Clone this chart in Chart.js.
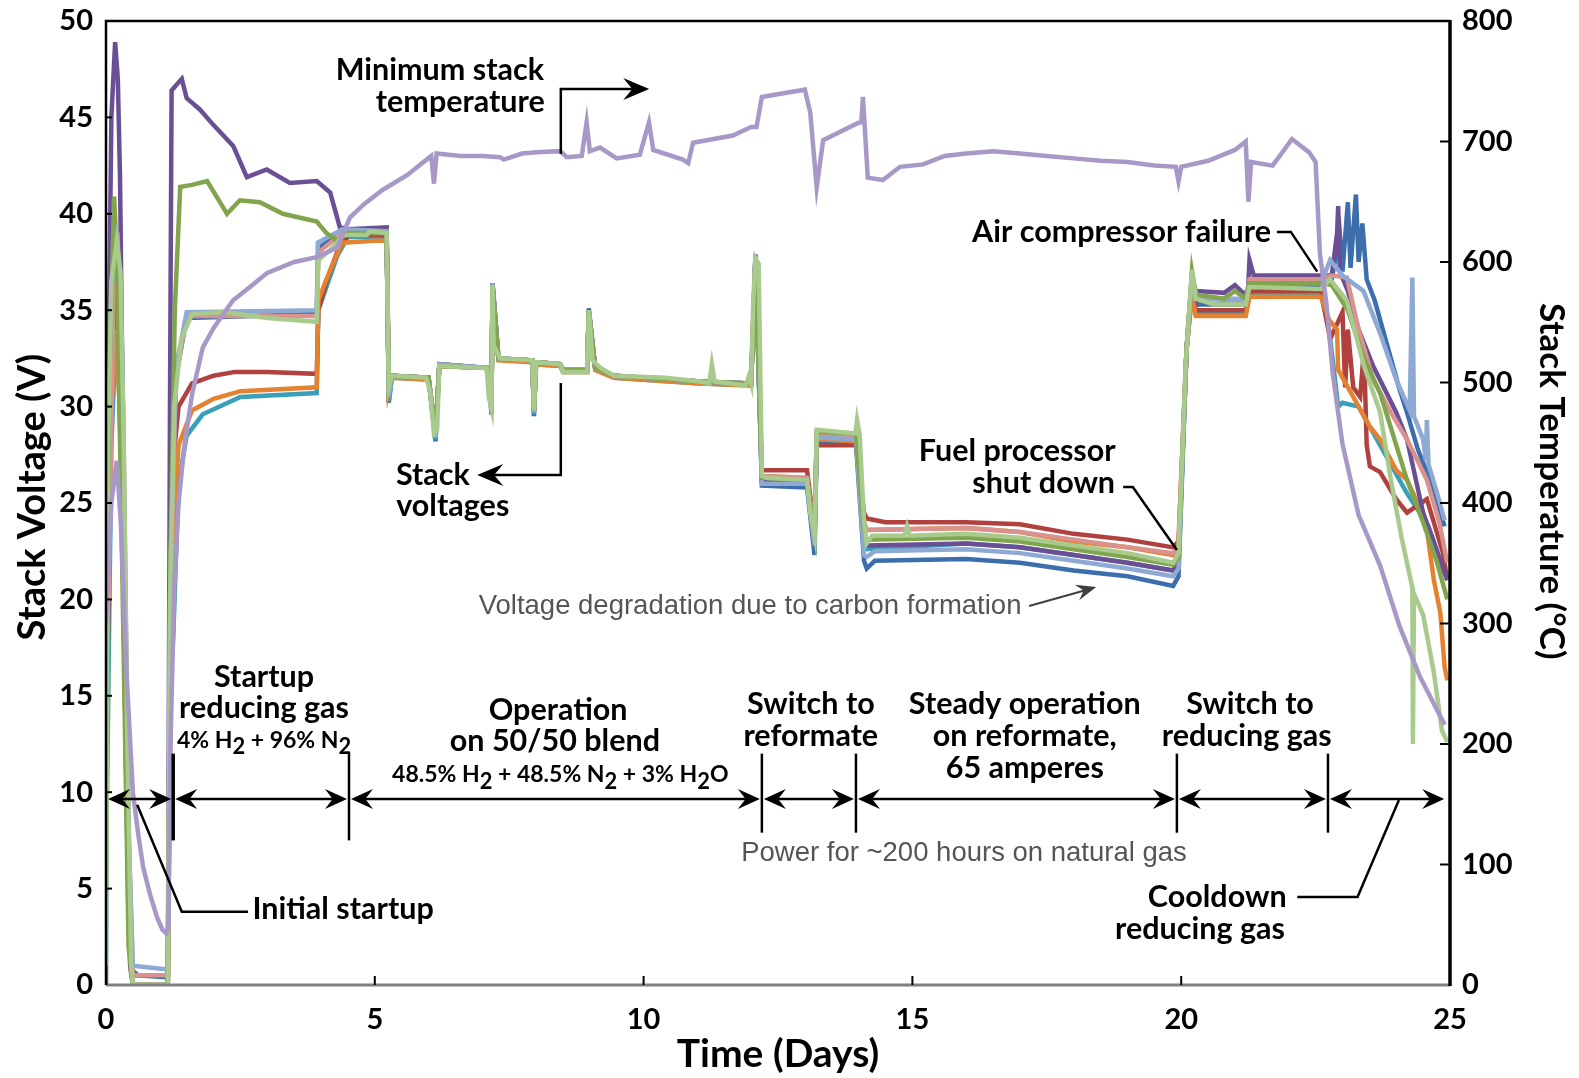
<!DOCTYPE html>
<html>
<head>
<meta charset="utf-8">
<script src="https://cdn.jsdelivr.net/npm/chart.js@4/dist/chart.umd.min.js"></script>
<style>
html,body{margin:0;padding:0;background:#fff}
#wrap{width:1579px;height:1078px;position:relative}
</style>
</head>
<body>
<div id="wrap"><canvas id="c"></canvas></div>
<script>
// tick labels
var xTicks = [0, 5, 10, 15, 20, 25];
var voltTicks = [0, 5, 10, 15, 20, 25, 30, 35, 40, 45, 50];
var tempTicks = [0, 100, 200, 300, 400, 500, 600, 700, 800];

// minimum stack temperature, [day, degC]
var stackTemp = [[0.0,300],[0.1,400],[0.2,435],[0.28,380],[0.38,260],[0.5,160],[0.6,125],[0.69,98],[0.82,75],[0.95,56],[1.05,46],[1.12,43],[1.16,48],[1.2,200],[1.27,330],[1.35,400],[1.45,445],[1.6,490],[1.8,529],[2.0,545],[2.36,568],[2.7,580],[3.0,591],[3.5,600],[3.92,604],[4.3,612],[4.54,637],[4.8,648],[5.15,660],[5.6,672],[6.05,688],[6.1,665],[6.15,690],[6.6,688],[7.0,688],[7.33,687],[7.4,685],[7.74,690],[8.0,691],[8.45,692],[8.57,687],[8.85,688],[8.94,716],[9.0,692],[9.19,695],[9.5,686],[9.93,689],[10.1,716],[10.18,693],[10.73,685],[10.83,682],[10.92,699],[11.66,705],[12.0,712],[12.1,712],[12.2,737],[12.6,740],[13.0,743],[13.1,724],[13.22,662],[13.34,701],[13.97,715],[14.05,716],[14.08,737],[14.17,670],[14.45,668],[14.77,679],[15.2,681],[15.6,688],[16.0,690],[16.5,692],[17.0,690],[17.5,688],[18.0,686],[18.5,684],[19.0,683],[19.5,680],[19.9,679],[19.95,667],[20.0,679],[20.5,684],[21.0,693],[21.2,700],[21.25,650],[21.3,683],[21.7,680],[22.06,702],[22.38,691],[22.5,683],[22.58,607],[22.7,566],[22.82,507],[23.0,449],[23.3,390],[23.7,348],[24.06,298],[24.44,256],[24.9,216]];

// stack voltages, [day, V]
var lightGreenV = [[0.0,1],[0.04,28],[0.1,36.5],[0.2,38.6],[0.27,37],[0.33,28],[0.4,12],[0.47,1],[0.5,0],[1.15,0],[1.19,20],[1.27,30],[1.4,33.5],[1.6,34.8],[2.2,34.9],[3.0,34.6],[3.92,34.4],[3.95,37.6],[4.2,38.2],[4.42,38.9],[4.85,38.9],[4.9,39.1],[5.22,39.0],[5.26,31.0],[5.32,31.6],[5.95,31.5],[6.03,30.8],[6.1,28.6],[6.16,28.8],[6.2,32.1],[7.08,32.0],[7.12,30.5],[7.17,29.9],[7.19,36.3],[7.21,33.2],[7.33,32.5],[7.93,32.4],[7.96,29.8],[8.0,32.3],[8.45,32.2],[8.5,31.8],[8.95,31.8],[8.98,35.0],[9.05,32.4],[9.2,32.0],[9.45,31.6],[10.4,31.5],[11.05,31.3],[11.22,31.2],[11.27,32.2],[11.32,31.3],[11.9,31.1],[11.96,31.6],[12.0,31.2],[12.04,35.5],[12.08,37.7],[12.14,37.4],[12.2,26.4],[12.3,26.3],[13.04,26.2],[13.1,24.5],[13.18,23.3],[13.22,28.8],[13.6,28.7],[13.94,28.6],[13.97,29.3],[14.02,28.5],[14.1,24.0],[14.15,22.9],[14.25,23.3],[14.85,23.3],[14.9,23.8],[14.95,23.3],[16.0,23.4],[17.0,23.2],[18.0,22.8],[19.0,22.4],[19.85,21.9],[19.95,22.4],[20.08,32],[20.2,37.1],[20.27,35.6],[20.6,35.3],[21.2,35.3],[21.27,36.2],[22.6,36.1],[22.77,36.6],[23.08,35.5],[23.4,32.1],[23.7,29.7],[23.9,26.2],[24.1,23.2],[24.3,20.6],[24.31,12.5],[24.33,20.3],[24.5,19.2],[24.7,16.2],[24.85,13.2],[24.95,12.6]];
var greenV = [[0.0,5],[0.05,30],[0.15,40.9],[0.2,38],[0.3,22],[0.42,2],[0.5,0],[1.15,0],[1.2,22],[1.28,35],[1.38,41.4],[1.6,41.5],[1.88,41.7],[2.1,40.7],[2.25,40.0],[2.49,40.7],[2.86,40.6],[3.29,40.0],[3.92,39.6],[4.1,39.0],[4.3,38.6],[4.5,39.0],[5.22,39.0],[5.26,31],[5.32,31.6],[6.0,31.5],[6.13,28.6],[6.2,32.1],[7.12,32],[7.17,29.9],[7.19,36.3],[7.3,32.5],[7.93,32.4],[7.96,29.8],[8.0,32.3],[8.45,32.2],[8.5,31.9],[8.95,31.9],[8.98,35],[9.1,32],[9.45,31.6],[11.05,31.3],[12.0,31.2],[12.08,37.7],[12.2,26.3],[13.04,26.2],[13.18,23.3],[13.22,28.7],[13.95,28.6],[14.1,23.6],[14.15,23.1],[16,23.2],[17,23.0],[18,22.6],[19,22.2],[19.85,21.8],[19.95,22.2],[20.1,33],[20.2,37.0],[20.27,35.8],[20.8,35.6],[21.0,36.0],[21.2,35.6],[21.27,36.4],[22.6,36.4],[22.8,36.3],[23.1,35.0],[23.4,32.5],[23.7,30.7],[24.0,28],[24.2,26.2],[24.5,24],[24.75,22],[24.95,20]];
var lightBlueV = [[0.02,25],[0.1,36],[0.2,38.8],[0.3,33],[0.42,8],[0.5,1],[1.15,0.8],[1.2,22],[1.3,32],[1.5,34.9],[3.92,35.0],[3.94,38.5],[4.4,39.2],[5.22,39.1],[5.26,30.5],[5.32,31.6],[6.0,31.5],[6.13,28.4],[6.2,32.2],[7.12,32.0],[7.17,29.8],[7.19,36.4],[7.3,32.5],[7.93,32.4],[7.96,29.7],[8.0,32.3],[8.45,32.2],[8.5,31.9],[8.95,31.9],[8.98,35],[9.1,32.0],[9.45,31.6],[11.05,31.3],[12.0,31.2],[12.08,37.8],[12.2,26.0],[13.04,26.0],[13.18,22.8],[13.22,28.4],[13.95,28.3],[14.1,22.3],[14.15,22.2],[14.3,22.5],[16.0,22.6],[17.0,22.4],[18.0,22.0],[19.0,21.6],[19.85,21.2],[19.95,21.6],[20.1,33],[20.2,36.8],[20.3,35.6],[21.2,35.6],[21.27,36.4],[22.6,36.4],[22.77,37.6],[23.0,36.8],[23.39,36.0],[23.7,33.8],[24.0,31.4],[24.25,29.8],[24.3,36.7],[24.33,29.5],[24.5,28.3],[24.55,27.2],[24.57,29.3],[24.6,27.0],[24.75,25.6],[24.9,24.1]];
var pinkV = [[0.05,20],[0.15,38],[0.22,38.5],[0.32,30],[0.42,8],[0.5,0.5],[1.15,0.5],[1.2,20],[1.3,31.5],[1.5,34.7],[3.92,34.7],[3.95,38],[4.4,39],[5.22,39],[5.26,31],[5.32,31.6],[6.0,31.5],[6.13,28.7],[6.2,32.1],[7.12,32],[7.17,30],[7.19,36.2],[7.3,32.5],[7.93,32.4],[7.96,29.9],[8.0,32.3],[8.45,32.2],[8.5,31.9],[8.95,31.9],[8.98,34.9],[9.1,32],[9.45,31.6],[11.05,31.3],[12.0,31.2],[12.08,37.6],[12.2,26.4],[13.04,26.3],[13.18,23.5],[13.22,28.5],[13.95,28.4],[14.1,24],[14.15,23.6],[16,23.7],[17,23.5],[18,23.1],[19,22.7],[19.85,22.4],[19.95,22.7],[20.1,33],[20.2,36.5],[20.27,35.6],[21.2,35.5],[21.27,36.6],[22.6,36.6],[22.8,36.8],[23.08,36.7],[23.3,34],[23.57,31.4],[23.9,29.7],[24.2,28.3],[24.57,26.2],[24.8,24],[24.95,21.9]];
var purpleV = [[0.0,20],[0.05,33],[0.1,45],[0.17,48.9],[0.22,47],[0.26,42],[0.32,28],[0.4,10],[0.45,1],[0.5,0],[1.15,0],[1.19,30],[1.22,46.4],[1.41,47.0],[1.5,46.0],[1.75,45.4],[2.0,44.6],[2.37,43.5],[2.62,41.9],[2.99,42.3],[3.42,41.6],[3.92,41.7],[4.17,41.1],[4.35,39.3],[4.5,39.2],[5.22,39.3],[5.26,31],[5.32,31.6],[6.0,31.5],[6.13,28.6],[6.2,32.2],[7.12,32],[7.17,29.9],[7.19,36.4],[7.3,32.5],[7.93,32.4],[7.96,29.8],[8.0,32.3],[8.45,32.2],[8.5,31.9],[8.95,31.9],[8.98,35],[9.1,32],[9.45,31.6],[11.05,31.3],[12.0,31.2],[12.08,37.9],[12.2,26.2],[13.04,26.1],[13.18,23.3],[13.22,28.6],[13.95,28.5],[14.1,23.2],[14.15,22.8],[16,22.9],[17,22.7],[18,22.3],[19,21.9],[19.85,21.5],[19.95,22],[20.1,33],[20.2,36.6],[20.27,36.0],[20.8,35.9],[21.0,36.3],[21.15,35.9],[21.24,35.9],[21.27,37.6],[21.35,36.8],[22.6,36.8],[22.8,36.8],[22.9,39],[22.92,40.4],[22.95,37],[23.1,36],[23.3,34],[23.57,32.1],[24.0,29.7],[24.2,28.3],[24.5,24.5],[24.95,21.0]];
var orangeV = [[0.0,22],[0.05,25],[0.1,30],[0.2,34],[0.28,28],[0.38,10],[0.45,1],[0.5,0],[1.15,0],[1.2,15],[1.28,25],[1.35,28],[1.6,29.8],[2.0,30.4],[2.5,30.8],[3.92,31.0],[3.95,35.5],[4.1,36.6],[4.25,37.6],[4.4,38.5],[5.0,38.6],[5.22,38.6],[5.26,30.8],[5.32,31.5],[6.0,31.4],[6.13,28.5],[6.2,32.1],[7.12,32],[7.17,29.8],[7.19,36.2],[7.3,32.4],[7.93,32.3],[7.96,29.8],[8.0,32.2],[8.45,32.1],[8.5,31.8],[8.95,31.8],[8.98,34.9],[9.1,31.9],[9.45,31.5],[11.05,31.2],[12.0,31.1],[12.08,37.6],[12.2,26.4],[13.04,26.3],[13.18,23.4],[13.22,28.3],[13.95,28.2],[14.1,24],[14.15,23.6],[16,23.7],[17,23.5],[18,23.0],[19,22.7],[19.85,22.3],[19.95,22.6],[20.1,33],[20.2,35.8],[20.27,34.7],[21.2,34.7],[21.27,35.7],[22.6,35.7],[22.75,34.5],[22.9,34.0],[22.92,31.9],[23.2,30.5],[23.5,29.0],[23.7,28.3],[24.0,26.7],[24.2,26.2],[24.4,25],[24.57,23.6],[24.7,21],[24.82,19.3],[24.9,16.5],[24.95,15.8]];
var redV = [[0.02,15],[0.1,30],[0.2,36],[0.3,28],[0.4,8],[0.48,0.5],[1.15,0.5],[1.2,18],[1.28,28],[1.35,30],[1.6,31.2],[2.0,31.6],[2.4,31.8],[3.0,31.8],[3.92,31.7],[3.95,35],[4.1,36.5],[4.3,38],[4.5,38.9],[5.22,38.9],[5.26,31],[5.32,31.6],[6.0,31.5],[6.13,28.6],[6.2,32.1],[7.12,32],[7.17,29.9],[7.19,36.2],[7.3,32.5],[7.93,32.4],[7.96,29.8],[8.0,32.3],[8.45,32.2],[8.5,31.9],[8.95,31.9],[8.98,34.9],[9.1,32],[9.45,31.6],[11.05,31.3],[12.0,31.2],[12.08,37.6],[12.2,26.7],[13.04,26.7],[13.18,23.6],[13.22,28.0],[13.95,28.0],[14.1,24.5],[14.15,24.2],[14.5,24.0],[16,24.0],[17,23.9],[18,23.4],[19,23.1],[19.85,22.7],[19.95,23.0],[20.1,33],[20.2,36.2],[20.27,35.0],[21.2,35.0],[21.27,36.0],[22.6,36.0],[22.77,33.5],[23.0,34.9],[23.05,31.0],[23.1,34],[23.2,31.0],[23.33,30.5],[23.4,33],[23.45,28],[23.51,26.9],[23.7,26.6],[24.0,25.2],[24.2,24.5],[24.57,25.2],[24.87,22.4],[24.95,21]];
var tealV = [[0.02,10],[0.1,28],[0.2,35],[0.3,25],[0.42,3],[0.5,0],[1.15,0],[1.2,16],[1.25,18],[1.35,26],[1.5,28.5],[1.8,29.6],[2.5,30.5],[3.92,30.7],[3.95,35],[4.1,36.2],[4.3,37.8],[4.5,38.8],[5.22,38.8],[5.26,30.3],[5.32,31.5],[6.0,31.4],[6.13,28.3],[6.2,32.1],[7.12,32],[7.17,29.6],[7.19,36.2],[7.3,32.5],[7.93,32.3],[7.96,29.6],[8.0,32.2],[8.45,32.1],[8.5,31.8],[8.95,31.8],[8.98,34.9],[9.1,31.9],[9.45,31.5],[11.05,31.2],[12.0,31.1],[12.08,37.6],[12.2,26.1],[13.04,26.0],[13.18,23.0],[13.22,28.3],[13.95,28.2],[14.1,23],[14.15,22.6],[16,22.9],[17,22.7],[18,22.3],[19,21.9],[19.85,21.5],[19.95,21.9],[20.1,33],[20.2,35.8],[20.27,34.8],[21.2,34.8],[21.27,35.8],[22.6,35.8],[22.75,34],[22.92,30.0],[23.0,30.2],[23.3,30],[23.5,29],[23.8,27.5],[24.2,25.5],[24.6,23.8],[24.95,21]];
var blueV = [[0.0,0],[0.02,30],[0.08,35.5],[0.18,38.3],[0.28,33],[0.4,10],[0.47,0.8],[0.6,0.5],[1.15,0.4],[1.19,18],[1.3,31.5],[1.5,34.6],[3.92,34.8],[3.95,38.2],[4.4,39.1],[5.22,39.1],[5.26,30.2],[5.32,31.6],[6.0,31.5],[6.13,28.2],[6.2,32.2],[7.12,32.0],[7.17,29.6],[7.19,36.4],[7.3,32.5],[7.93,32.4],[7.96,29.5],[8.0,32.3],[8.45,32.2],[8.5,31.9],[8.95,31.9],[8.98,35.1],[9.1,32.0],[9.45,31.6],[11.05,31.3],[12.0,31.2],[12.08,37.8],[12.2,25.9],[13.04,25.8],[13.18,22.3],[13.22,28.2],[13.95,28.1],[14.1,22.0],[14.15,21.6],[14.3,22.0],[16.0,22.1],[17.0,21.9],[18.0,21.5],[19.0,21.2],[19.85,20.7],[19.95,21.2],[20.1,33],[20.2,36.5],[20.3,35.3],[21.2,35.3],[21.27,36.3],[22.6,36.3],[22.8,36.6],[22.95,39.0],[23.0,37.0],[23.1,40.6],[23.15,37.2],[23.25,41.0],[23.3,37.5],[23.37,39.5],[23.45,36.6],[23.6,35.5],[23.7,34.5],[23.8,33.5],[23.94,32.1],[24.05,31.0],[24.2,29.7],[24.4,27.8],[24.57,26.6],[24.75,25],[24.9,23.8]];

// phase boundaries (days) on the arrow line
var phaseEdges = [0, 1.25, 4.52, 12.2, 13.95, 19.92, 22.73, 24.93];
var arrowLineV = 9.65;

var FONT = 'Lato, "Open Sans", sans-serif';
function bold(px) { return 'bold ' + px + 'px ' + FONT; }

function pts(arr) {
    return arr.map(function (p) { return { x: p[0], y: p[1] }; });
}
function series(data, color, axis) {
    return {
        data: pts(data),
        borderColor: color,
        borderWidth: 4.5,
        pointRadius: 0,
        tension: 0,
        fill: false,
        yAxisID: axis || 'y'
    };
}

// barbed arrowhead, tip at (x,y), pointing along angle a
function arrowHead(ctx, x, y, a, len, half) {
    ctx.save();
    ctx.translate(x, y);
    ctx.rotate(a);
    ctx.beginPath();
    ctx.moveTo(0, 0);
    ctx.lineTo(-len, -half);
    ctx.lineTo(-len * 0.65, 0);
    ctx.lineTo(-len, half);
    ctx.closePath();
    ctx.fill();
    ctx.restore();
}

// text with subscripts, parts starting with "_" are lowered
function richText(ctx, parts, cx, cy, size) {
    var w = 0;
    parts.forEach(function (p) {
        ctx.font = bold(p[0] === '_' ? size * 0.95 : size);
        w += ctx.measureText(p[0] === '_' ? p.slice(1) : p).width;
    });
    var x = cx - w / 2;
    ctx.textAlign = 'left';
    parts.forEach(function (p) {
        var sub = p[0] === '_';
        var t = sub ? p.slice(1) : p;
        ctx.font = bold(sub ? size * 0.95 : size);
        ctx.fillText(t, x, cy + (sub ? size * 0.28 : 0));
        x += ctx.measureText(t).width;
    });
}

function rotatedText(ctx, text, x, y, angle, font) {
    ctx.save();
    ctx.translate(x, y);
    ctx.rotate(angle);
    ctx.font = font;
    ctx.textAlign = 'center';
    ctx.textBaseline = 'middle';
    ctx.fillText(text, 0, 0);
    ctx.restore();
}

var boldLabels = [
    ['Minimum stack', 6.21, 47.46, 'center'],
    ['temperature', 6.59, 45.81, 'center'],
    ['Stack', 6.08, 26.45, 'center'],
    ['voltages', 6.45, 24.82, 'center'],
    ['Air compressor failure', 21.67, 39.06, 'right'],
    ['Fuel processor', 16.95, 27.7, 'center'],
    ['shut down', 18.77, 26.04, 'right'],
    ['Startup', 2.94, 15.98, 'center'],
    ['reducing gas', 2.94, 14.37, 'center'],
    ['Operation', 8.41, 14.26, 'center'],
    ['on 50/50 blend', 8.35, 12.66, 'center'],
    ['Switch to', 13.11, 14.57, 'center'],
    ['reformate', 13.11, 12.91, 'center'],
    ['Steady operation', 17.09, 14.57, 'center'],
    ['on reformate,', 17.09, 12.91, 'center'],
    ['65 amperes', 17.09, 11.25, 'center'],
    ['Switch to', 21.28, 14.57, 'center'],
    ['reducing gas', 21.22, 12.91, 'center'],
    ['Cooldown', 20.67, 4.56, 'center'],
    ['reducing gas', 20.35, 2.9, 'center'],
    ['Initial startup', 4.41, 3.94, 'center']
];
var grayLabels = [
    ['Voltage degradation due to carbon formation', 11.98, 19.66],
    ['Power for ~200 hours on natural gas', 15.96, 6.85]
];
// leader lines, [day, V] vertices
var leaders = [
    [[8.46, 43.1], [8.46, 46.47], [10.03, 46.47]],
    [[8.46, 31.22], [8.46, 26.45], [6.98, 26.45]],
    [[21.78, 39.06], [22.04, 39.06], [22.53, 37.0]],
    [[18.92, 25.83], [19.1, 25.83], [19.92, 22.56]],
    [[0.58, 9.35], [1.41, 3.8], [2.64, 3.8]],
    [[24.05, 9.6], [23.28, 4.56], [22.16, 4.56]]
];

var annotate = {
    id: 'annotate',
    afterDatasetsDraw: function (chart) {
        var ctx = chart.ctx, xs = chart.scales.x, ys = chart.scales.y, y2 = chart.scales.y2;
        var a = chart.chartArea;
        function X(d) { return xs.getPixelForValue(d); }
        function Y(v) { return ys.getPixelForValue(v); }
        ctx.save();

        // frame
        ctx.lineCap = 'butt';
        ctx.strokeStyle = '#808080';
        ctx.lineWidth = 3;
        ctx.beginPath(); ctx.moveTo(a.left, a.bottom); ctx.lineTo(a.right, a.bottom); ctx.stroke();
        ctx.strokeStyle = '#000';
        ctx.lineWidth = 2.5;
        ctx.beginPath(); ctx.moveTo(a.left, a.bottom); ctx.lineTo(a.left, a.top); ctx.lineTo(a.right, a.top); ctx.stroke();
        ctx.lineWidth = 3.5;
        ctx.beginPath(); ctx.moveTo(a.right, a.top - 1); ctx.lineTo(a.right, a.bottom + 1); ctx.stroke();
        ctx.lineWidth = 2;
        xTicks.slice(1, -1).forEach(function (t) {
            ctx.beginPath(); ctx.moveTo(X(t), a.bottom); ctx.lineTo(X(t), a.bottom - 9); ctx.stroke();
        });
        voltTicks.slice(1, -1).forEach(function (t) {
            ctx.beginPath(); ctx.moveTo(a.left, Y(t)); ctx.lineTo(a.left + 6, Y(t)); ctx.stroke();
        });
        tempTicks.slice(1, -1).forEach(function (t) {
            var py = y2.getPixelForValue(t);
            ctx.beginPath(); ctx.moveTo(a.right, py); ctx.lineTo(a.right - 10, py); ctx.stroke();
        });

        // phase arrow line
        ctx.fillStyle = '#000';
        ctx.lineWidth = 2.5;
        var ly = Y(arrowLineV);
        for (var i = 0; i < phaseEdges.length - 1; i++) {
            var x0 = X(phaseEdges[i]) + 2, x1 = X(phaseEdges[i + 1]) - 2;
            ctx.beginPath(); ctx.moveTo(x0 + 10, ly); ctx.lineTo(x1 - 10, ly); ctx.stroke();
            arrowHead(ctx, x0, ly, Math.PI, 22, 10);
            arrowHead(ctx, x1, ly, 0, 22, 10);
        }
        phaseEdges.slice(1, -1).forEach(function (d, k) {
            ctx.lineWidth = k === 0 ? 3.5 : 2.5;
            ctx.beginPath(); ctx.moveTo(X(d), Y(12.0)); ctx.lineTo(X(d), Y(k < 2 ? 7.5 : 7.9)); ctx.stroke();
        });

        // leader lines
        ctx.lineWidth = 2.5;
        ctx.strokeStyle = '#000';
        leaders.forEach(function (l, k) {
            ctx.beginPath();
            l.forEach(function (p, j) {
                if (j === 0) ctx.moveTo(X(p[0]), Y(p[1])); else ctx.lineTo(X(p[0]), Y(p[1]));
            });
            ctx.stroke();
            if (k < 2) {
                var e = l[l.length - 1];
                arrowHead(ctx, X(e[0]) + (k === 0 ? 4 : -4), Y(e[1]), k === 0 ? 0 : Math.PI, 26, 11);
            }
        });

        // gray arrow of the degradation note
        ctx.strokeStyle = '#404040';
        ctx.fillStyle = '#404040';
        ctx.lineWidth = 2;
        var gx0 = X(17.17), gy0 = Y(19.66), gx1 = X(18.42), gy1 = Y(20.64);
        ctx.beginPath(); ctx.moveTo(gx0, gy0); ctx.lineTo(gx1 - 10, gy1 + 3); ctx.stroke();
        arrowHead(ctx, gx1, gy1, Math.atan2(gy1 - gy0, gx1 - gx0), 20, 8);

        // texts
        ctx.fillStyle = '#000';
        ctx.textBaseline = 'middle';
        ctx.font = bold(30.5);
        boldLabels.forEach(function (t) {
            ctx.textAlign = t[3];
            ctx.fillText(t[0], X(t[1]), Y(t[2]));
        });
        richText(ctx, ['4% H', '_2', ' + 96% N', '_2'], X(2.94), Y(12.66), 23);
        richText(ctx, ['48.5% H', '_2', ' + 48.5% N', '_2', ' + 3% H', '_2', 'O'], X(8.45), Y(10.89), 23);

        ctx.fillStyle = '#555';
        ctx.textAlign = 'center';
        ctx.font = '27.5px "Liberation Sans", Arial, sans-serif';
        grayLabels.forEach(function (t) {
            ctx.fillText(t[0], X(t[1]), Y(t[2]));
        });

        // axis titles
        ctx.fillStyle = '#000';
        rotatedText(ctx, 'Stack Voltage (V)', 33, Y(25.3), -Math.PI / 2, bold(38));
        rotatedText(ctx, 'Stack Temperature (\u00B0C)', 1551, y2.getPixelForValue(418), Math.PI / 2, bold(35));
        ctx.restore();
    }
};

function noPad(s) { s.paddingTop = 0; s.paddingBottom = 0; }

var ctx = document.getElementById('c').getContext('2d');
var chart = new Chart(ctx, {
    type: 'line',
    data: {
        datasets: [
            series(stackTemp, '#a898c7', 'y2'),
            series(lightGreenV, '#a9ca8d'),
            series(greenV, '#80a54c'),
            series(lightBlueV, '#8ea9d4'),
            series(pinkV, '#d9928e'),
            series(purpleV, '#6b4f95'),
            series(orangeV, '#e5822f'),
            series(redV, '#b0413e'),
            series(tealV, '#3a9fb9'),
            series(blueV, '#3d6eac')
        ]
    },
    options: {
        responsive: true,
        maintainAspectRatio: false,
        animation: false,
        layout: { padding: { top: 21, left: 0, right: 0, bottom: 0 } },
        plugins: { legend: { display: false }, tooltip: { enabled: false } },
        scales: {
            x: {
                type: 'linear', min: 0, max: 25,
                afterBuildTicks: function (s) { s.ticks = xTicks.map(function (v) { return { value: v }; }); },
                afterFit: function (s) { s.height = 93; s.paddingLeft = 0; s.paddingRight = 0; },
                grid: { display: false }, border: { display: false },
                ticks: { color: '#000', padding: 9, font: { size: 29, weight: 'bold', family: FONT }, maxRotation: 0 },
                title: { display: true, text: 'Time (Days)', color: '#000', padding: { top: 0, bottom: 0 }, font: { size: 39, weight: 'bold', family: FONT } }
            },
            y: {
                position: 'left', min: 0, max: 50,
                afterBuildTicks: function (s) { s.ticks = voltTicks.map(function (v) { return { value: v }; }); },
                afterFit: function (s) { s.width = 106; noPad(s); },
                grid: { display: false }, border: { display: false },
                ticks: { color: '#000', padding: 5, font: { size: 29, weight: 'bold', family: FONT } }
            },
            y2: {
                position: 'right', min: 0, max: 800,
                afterBuildTicks: function (s) { s.ticks = tempTicks.map(function (v) { return { value: v }; }); },
                afterFit: function (s) { s.width = 129; noPad(s); },
                grid: { display: false }, border: { display: false },
                ticks: { color: '#000', padding: 4, font: { size: 29, weight: 'bold', family: FONT } }
            }
        }
    },
    plugins: [annotate]
});
</script>
</body>
</html>
